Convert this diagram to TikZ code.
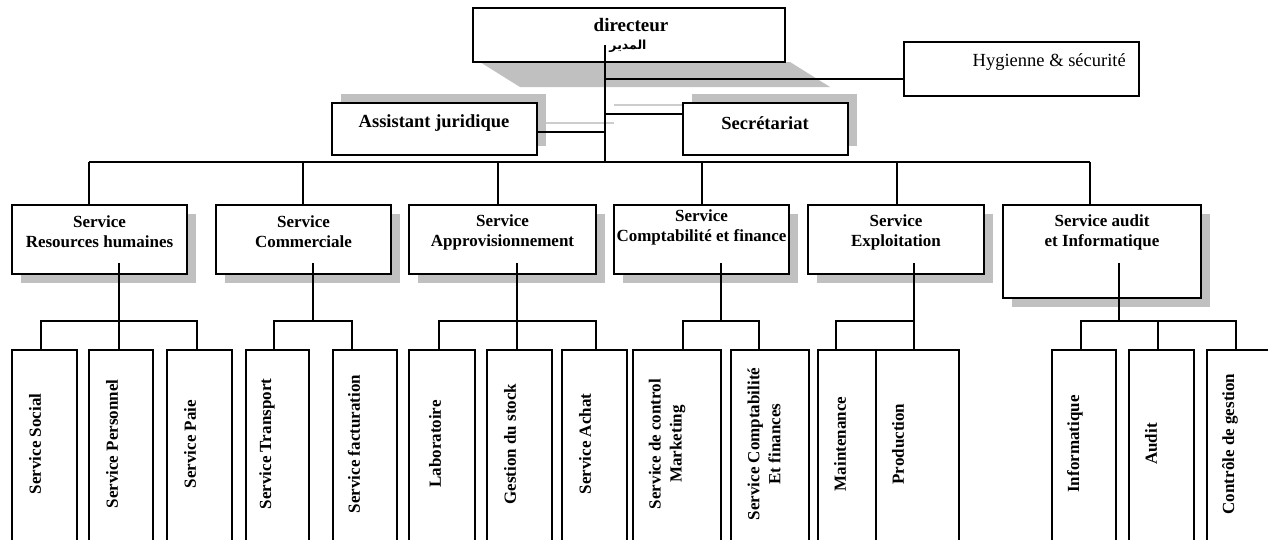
\documentclass[tikz,border=0pt]{standalone}
\usepackage{fontspec}
\setmainfont{Liberation Serif}
\newfontfamily\arabicfont[Script=Arabic]{DejaVu Sans}
\TeXXeTstate=1
\usetikzlibrary{shadows}

\definecolor{shadowgrey}{RGB}{192,192,192}
\definecolor{faintgrey}{RGB}{205,205,205}

\tikzset{
  box/.style={draw, line width=1.3pt, fill=white, inner sep=0pt, rectangle},
  shadedown/.style={drop shadow={shadow xshift=9pt, shadow yshift=-9pt, fill=shadowgrey, opacity=1}},
  shadeup/.style={drop shadow={shadow xshift=9pt, shadow yshift=9pt, fill=shadowgrey, opacity=1}},
  link/.style={line width=1.3pt},
  ghost/.style={line width=1.3pt, draw=faintgrey},
  head/.style={font=\fontsize{18.5}{21}\selectfont\bfseries, inner sep=0pt},
  unit/.style={font=\fontsize{17}{20}\selectfont\bfseries, align=center, inner sep=0pt},
  leaf/.style={font=\fontsize{17}{21}\selectfont\bfseries, align=center, rotate=90, inner sep=0pt},
}

% box from corner (#3,#4) to corner (#5,#6), y measured downwards
\newcommand\orgbox[6][]{%
  \node[box,#1,minimum width={#5pt-#3pt},minimum height={#6pt-#4pt}]
    (#2) at ({(#3+#5)/2},{(#4+#6)/2}) {};}

\begin{document}
\begin{tikzpicture}[x=1pt,y=-1pt]
\useasboundingbox (0,0) rectangle (1268,539);
\fill[white] (0,0) rectangle (1268,539);
\clip (0,0) rectangle (1268,539);

% ---- shadows and faint connector shadows
\fill[shadowgrey] (480,62) -- (520,87) -- (830,87) -- (790,62) -- cycle;
\draw[ghost] (546,123) -- (614,123);
\draw[ghost] (614,105) -- (692,105);

% ---- top level
\orgbox{dir}{473}{8}{785}{62}
\node[font=\fontsize{19}{21}\selectfont\bfseries, inner sep=0pt] (dir-t) at (631,25) {directeur};
\node[font=\arabicfont\bfseries\fontsize{12.5}{14}\selectfont, inner sep=0pt] (dir-ar) at (628,46) {\beginR المدير\endR};

\orgbox{hyg}{904}{42}{1139}{96}
\node[font=\fontsize{18.5}{21}\selectfont, inner sep=0pt, anchor=east] (hyg-t) at (1126,62) {Hygienne \& sécurité};

\orgbox[shadeup]{ass}{332}{103}{537}{155}
\node[head] (ass-t) at (434,123) {Assistant juridique};
\orgbox[shadeup]{sec}{683}{103}{848}{155}
\node[head] (sec-t) at (765,123) {Secrétariat};

% ---- services
\orgbox[shadedown]{rh}{12}{205}{187}{274}
\node[unit] (rh-t) at (99.5,232) {Service\\Resources humaines};
\orgbox[shadedown]{com}{216}{205}{391}{274}
\node[unit] (com-t) at (303.5,232) {Service\\Commerciale};
\orgbox[shadedown]{app}{409}{205}{596}{274}
\node[unit] (app-t) at (502.5,232) {Service\\Approvisionnement};
\orgbox[shadedown]{cpt}{614}{205}{789}{274}
\node[unit] (cpt-t) at (701.5,227) {Service\\Comptabilité et finance};
\orgbox[shadedown]{exp}{808}{205}{984}{274}
\node[unit] (exp-t) at (896,232) {Service\\Exploitation};
\orgbox[shadedown]{aud}{1003}{205}{1201}{298}
\node[unit] (aud-t) at (1102,232) {Service audit\\et Informatique};

% ---- sections
\orgbox{social}{12}{350}{77}{560}
\node[leaf] (social-t) at (35,444) {Service Social};
\orgbox{perso}{89}{350}{153}{560}
\node[leaf] (perso-t) at (112,444) {Service Personnel};
\orgbox{paie}{167}{350}{232}{560}
\node[leaf] (paie-t) at (190,444) {Service Paie};
\orgbox{transp}{246}{350}{309}{560}
\node[leaf] (transp-t) at (267,444) {Service Transport};
\orgbox{factu}{333}{350}{397}{560}
\node[leaf] (factu-t) at (354,444) {Service facturation};
\orgbox{labo}{409}{350}{475}{560}
\node[leaf] (labo-t) at (435,444) {Laboratoire};
\orgbox{stock}{487}{350}{552}{560}
\node[leaf] (stock-t) at (510,444) {Gestion du stock};
\orgbox{achat}{562}{350}{627}{560}
\node[leaf] (achat-t) at (585,444) {Service Achat};
\orgbox{mkt}{633}{350}{721}{560}
\node[leaf] (mkt-t) at (667,444) {Service de control\\Marketing};
\orgbox{cptf}{731}{350}{809}{560}
\node[leaf] (cptf-t) at (764,444) {Service Comptabilité\\Et finances};
\orgbox{maint}{818}{350}{876}{560}
\node[leaf] (maint-t) at (840,444) {Maintenance};
\orgbox{prod}{876}{350}{959}{560}
\node[leaf] (prod-t) at (898,444) {Production};
\orgbox{info}{1052}{350}{1116}{560}
\node[leaf] (info-t) at (1075,444) {Informatique};
\orgbox{audit}{1129}{350}{1194}{560}
\node[leaf] (audit-t) at (1151,444) {Audit};
\orgbox{cdg}{1207}{350}{1280}{560}
\node[leaf] (cdg-t) at (1230,444) {Contrôle de gestion};

% ---- links from the director
\coordinate (dtop) at (605,45);
\coordinate (dbus) at (605,162);
\coordinate (hj) at (605,79);
\coordinate (aj) at (605,132);
\coordinate (sj) at (605,114);
\draw[link] (dtop) -- (dbus);
\draw[link] (hj) -- (hyg.west |- hj);
\draw[link] (aj) -- (ass.east |- aj);
\draw[link] (sj) -- (sec.west |- sj);

% ---- main bus
\coordinate (b1) at (89,162);
\coordinate (b2) at (303,162);
\coordinate (b3) at (498,162);
\coordinate (b4) at (702,162);
\coordinate (b5) at (897,162);
\coordinate (b6) at (1090,162);
\draw[link] (b1) -- (b6);
\draw[link] (b1) -- (rh.north -| b1);
\draw[link] (b2) -- (com.north -| b2);
\draw[link] (b3) -- (app.north -| b3);
\draw[link] (b4) -- (cpt.north -| b4);
\draw[link] (b5) -- (exp.north -| b5);
\draw[link] (b6) -- (aud.north -| b6);

% ---- sub buses
% Resources humaines
\coordinate (rh-in) at (119,263);
\coordinate (rh-a) at (41,321);
\coordinate (rh-b) at (197,321);
\draw[link] (rh-in) -- (perso.north -| rh-in);
\draw[link] (social.north -| rh-a) -- (rh-a) -- (rh-b) -- (paie.north -| rh-b);
% Commerciale
\coordinate (com-in) at (313,263);
\coordinate (com-a) at (274,321);
\coordinate (com-b) at (352,321);
\draw[link] (com-in) -- (com-in |- com-a);
\draw[link] (transp.north -| com-a) -- (com-a) -- (com-b) -- (factu.north -| com-b);
% Approvisionnement
\coordinate (app-in) at (517,263);
\coordinate (app-a) at (439,321);
\coordinate (app-b) at (596,321);
\draw[link] (app-in) -- (stock.north -| app-in);
\draw[link] (labo.north -| app-a) -- (app-a) -- (app-b) -- (achat.north -| app-b);
% Comptabilite et finance
\coordinate (cpt-in) at (721,263);
\coordinate (cpt-a) at (683,321);
\coordinate (cpt-b) at (759,321);
\draw[link] (cpt-in) -- (cpt-in |- cpt-a);
\draw[link] (mkt.north -| cpt-a) -- (cpt-a) -- (cpt-b) -- (cptf.north -| cpt-b);
% Exploitation
\coordinate (exp-in) at (914,263);
\coordinate (exp-a) at (836,321);
\draw[link] (exp-in) -- (prod.north -| exp-in);
\draw[link] (maint.north -| exp-a) -- (exp-a) -- (exp-a -| exp-in);
% Audit et informatique
\coordinate (aud-in) at (1119,263);
\coordinate (aud-a) at (1081,321);
\coordinate (aud-m) at (1158,321);
\coordinate (aud-b) at (1236,321);
\draw[link] (aud-in) -- (aud-in |- aud-a);
\draw[link] (info.north -| aud-a) -- (aud-a) -- (aud-b) -- (cdg.north -| aud-b);
\draw[link] (aud-m) -- (audit.north -| aud-m);
\end{tikzpicture}
\end{document}
